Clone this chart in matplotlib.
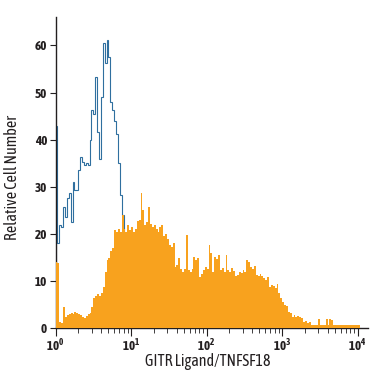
import numpy as np
import matplotlib
matplotlib.use("Agg")
import matplotlib.pyplot as plt
from matplotlib.ticker import LogLocator, FixedLocator, NullFormatter

# histogram bins: 40 per decade, starting at 10^0
bins_per_decade = 40

# isotype control (blue outline), counts per bin
isotype = [43.0, 18.0, 22.0, 21.5, 25.8, 23.7, 27.6, 28.7, 22.6, 31.0,
           29.3, 29.3, 33.5, 36.4, 35.3, 34.6, 35.0, 34.6, 39.9, 46.2,
           45.5, 53.3, 41.7, 36.0, 49.0, 60.4, 56.2, 61.1, 57.5, 48.0,
           46.2, 44.0, 41.3, 35.0, 28.2, 24.0, 19.0, 14.0, 9.0, 5.0,
           2.0, 0.5]

# GITR Ligand stained cells (orange fill), counts per bin
stained = [14.0, 13.8, 1.4, 1.2, 4.6, 2.5, 2.8, 3.0, 3.3, 3.1,
           3.4, 3.2, 3.0, 2.8, 2.5, 2.2, 2.6, 3.0, 3.3, 4.5,
           6.4, 6.8, 7.2, 6.8, 7.5, 8.8, 12.0, 14.5, 15.0, 16.5,
           17.0, 20.8, 20.5, 21.0, 20.5, 24.0, 21.0, 20.5, 22.0, 20.8,
           21.5, 20.5, 21.0, 22.7, 23.0, 28.6, 25.0, 22.0, 22.5, 25.8,
           22.2, 21.5, 22.0, 21.0, 20.5, 21.5, 22.0, 19.5, 20.0, 19.0,
           17.6, 17.2, 18.0, 13.0, 13.5, 15.0, 12.5, 12.0, 12.5, 19.8,
           12.4, 12.0, 12.5, 15.2, 14.5, 15.0, 10.9, 11.5, 12.4, 13.0,
           12.5, 17.6, 16.0, 12.0, 15.2, 14.8, 15.5, 12.4, 12.8, 12.0,
           15.5, 12.4, 12.0, 12.8, 12.2, 11.0, 11.3, 12.0, 11.8, 12.3,
           12.0, 14.5, 14.0, 13.0, 12.5, 13.2, 11.3, 11.0, 11.6, 11.0,
           10.6, 10.2, 10.8, 8.8, 9.2, 9.0, 8.6, 9.3, 7.5, 6.4,
           5.5, 4.9, 4.7, 3.5, 3.3, 2.5, 2.8, 2.3, 2.6, 2.4,
           2.2, 1.4, 1.5, 1.2, 1.4, 0.7, 0.8, 0.6, 0.7, 2.0,
           0.7, 0.8, 0.7, 2.0, 0.7, 2.0, 1.8, 0.6, 0.6, 0.6,
           0.6, 0.6, 0.6, 0.6, 0.6, 0.6, 0.6, 0.6, 0.6, 0.6,
           0.6]

y_ticks = [0, 10, 20, 30, 40, 50, 60]
x_ticks = [1, 10, 100, 1000, 10000]
x_ticklabels = [r'$10^{0}$', r'$10^{1}$', r'$10^{2}$', r'$10^{3}$', r'$10^{4}$']

plt.rcParams['font.family'] = ['Asap Condensed', 'DejaVu Sans']
plt.rcParams['font.weight'] = 'bold'
plt.rcParams['mathtext.fontset'] = 'custom'
plt.rcParams['mathtext.rm'] = 'Asap Condensed:bold'
plt.rcParams['mathtext.it'] = 'Asap Condensed:bold'
plt.rcParams['mathtext.bf'] = 'Asap Condensed:bold'

ink = '#231f20'

edges_stained = 10 ** (np.arange(len(stained) + 1) / bins_per_decade)
edges_iso = 10 ** (np.arange(len(isotype) + 1) / bins_per_decade)

fig = plt.figure(figsize=(3.75, 3.75), dpi=100)
ax = fig.add_axes([0.148, 0.1245, 0.833, 0.830])

ax.stairs(isotype, edges_iso, baseline=0, color='#2f6f9f', lw=0.8, zorder=2)
ax.stairs(stained, edges_stained, baseline=0, fill=True, color='#f8a21e',
          lw=0, zorder=3)

ax.set_xscale('log')
ax.set_xlim(1, 10 ** 4.134)
ax.set_ylim(0, 66)

ax.xaxis.set_major_locator(FixedLocator(x_ticks))
ax.set_xticklabels(x_ticklabels)
ax.xaxis.set_minor_locator(LogLocator(base=10, subs=np.arange(2, 10), numticks=20))
ax.xaxis.set_minor_formatter(NullFormatter())
ax.set_yticks(y_ticks)

for s in ['top', 'right']:
    ax.spines[s].set_visible(False)
for s in ['left', 'bottom']:
    ax.spines[s].set_linewidth(1.0)
    ax.spines[s].set_color(ink)

ax.tick_params(axis='x', which='major', length=6, width=0.8, direction='out',
               labelsize=9.5, pad=1, colors=ink)
ax.tick_params(axis='x', which='minor', length=3.5, width=0.6, direction='out',
               colors=ink)
ax.tick_params(axis='y', which='major', length=4, width=0.8, direction='out',
               labelsize=9.5, pad=2, colors=ink)

ax.set_xlabel('GITR Ligand/TNFSF18', fontsize=11.5, color=ink, va='center')
ax.xaxis.set_label_coords(0.488, -0.108)
ax.set_ylabel('Relative Cell Number', fontsize=11.5, color=ink, va='center')
ax.yaxis.set_label_coords(-0.139, 0.483)

fig.savefig('out.png', dpi=100)
